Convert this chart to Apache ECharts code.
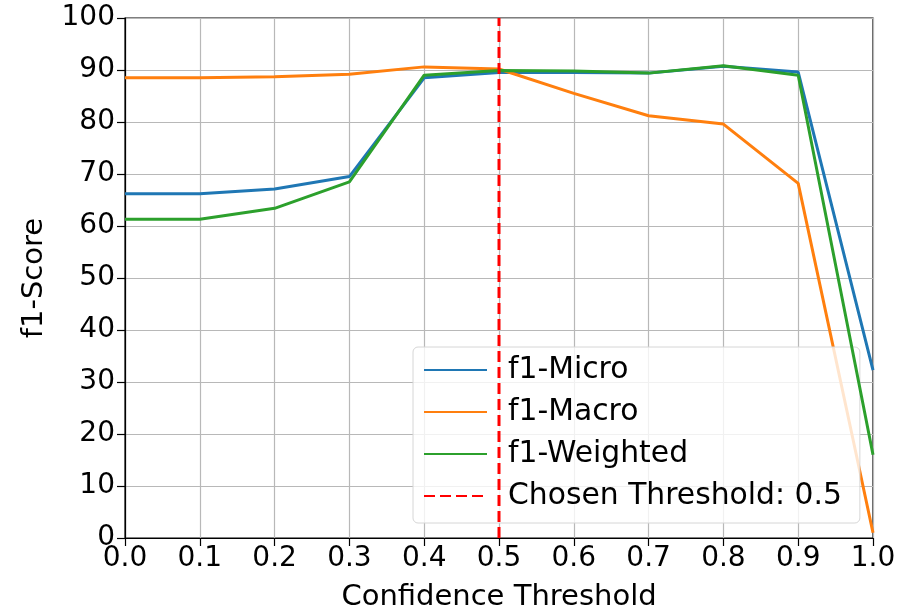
<!DOCTYPE html>
<html>
<head>
<meta charset="utf-8">
<script src="https://cdn.jsdelivr.net/npm/echarts@6/dist/echarts.min.js"></script>
<style>html,body{margin:0;padding:0;background:#fff;}#c{width:898px;height:610px;}</style>
</head>
<body>
<div id="c"></div>
<script>
const thresholds = [0.0, 0.1, 0.2, 0.3, 0.4, 0.5, 0.6, 0.7, 0.8, 0.9, 1.0];
const f1Micro = [66.2, 66.2, 67.1, 69.5, 88.5, 89.5, 89.5, 89.4, 90.7, 89.6, 32.3];
const f1Macro = [88.5, 88.5, 88.7, 89.2, 90.6, 90.2, 85.5, 81.2, 79.6, 68.2, 1.0];
const f1Weighted = [61.3, 61.3, 63.4, 68.5, 89.0, 89.9, 89.8, 89.4, 90.8, 89.0, 16.0];
const chosenThreshold = 0.5;
const seriesNames = ['f1-Micro', 'f1-Macro', 'f1-Weighted', 'Chosen Threshold: 0.5'];

const FONT = 'DejaVu Sans';
const pair = (xs, ys) => xs.map((x, i) => [x, ys[i]]);

const chart = echarts.init(document.getElementById('c'), null, {renderer: 'canvas'});
chart.setOption({
  animation: false,
  backgroundColor: '#fff',
  textStyle: {fontFamily: FONT, color: '#000'},
  grid: {left: 125, right: 25, top: 18, bottom: 72, outerBoundsMode: 'none', containLabel: false,
         show: true, borderColor: '#000', borderWidth: 1.2, backgroundColor: 'transparent'},
  xAxis: {
    type: 'value', min: 0, max: 1, interval: 0.1,
    name: 'Confidence Threshold', nameLocation: 'middle', nameGap: 45,
    nameTextStyle: {fontFamily: FONT, fontSize: 29, color: '#000'},
    axisLine: {show: true, lineStyle: {color: '#000', width: 1.2}},
    axisTick: {show: true, length: 8, lineStyle: {color: '#000', width: 1.2}},
    axisLabel: {fontFamily: FONT, fontSize: 28, color: '#000', margin: 7, formatter: v => v.toFixed(1)},
    splitLine: {show: true, lineStyle: {color: '#b8b8b8', width: 1.2}}
  },
  yAxis: {
    type: 'value', min: 0, max: 100, interval: 10,
    name: 'f1-Score', nameLocation: 'middle', nameGap: 76,
    nameTextStyle: {fontFamily: FONT, fontSize: 29, color: '#000'},
    axisLine: {show: true, lineStyle: {color: '#000', width: 1.2}},
    axisTick: {show: true, length: 8, lineStyle: {color: '#000', width: 1.2}},
    axisLabel: {fontFamily: FONT, fontSize: 28, color: '#000', margin: 10},
    splitLine: {show: true, lineStyle: {color: '#b8b8b8', width: 1.2}}
  },
  legend: {
    orient: 'vertical', left: 413, top: 347,
    data: seriesNames,
    itemWidth: 63, itemHeight: 14, itemGap: 6,
    padding: [5, 18, 9, 10],
    backgroundColor: 'rgba(255,255,255,0.8)',
    borderColor: '#d6d6d6', borderWidth: 1, borderRadius: 5,
    itemStyle: {opacity: 0},
    textStyle: {fontFamily: FONT, fontSize: 29.8, color: '#000', lineHeight: 36, padding: [0, 0, 0, 16]}
  },
  series: [
    {name: seriesNames[0], type: 'line', data: pair(thresholds, f1Micro), symbol: 'none', color: '#1f77b4', lineStyle: {width: 3, color: '#1f77b4'}, z: 2},
    {name: seriesNames[1], type: 'line', data: pair(thresholds, f1Macro), symbol: 'none', color: '#ff7f0e', lineStyle: {width: 3, color: '#ff7f0e'}, z: 3},
    {name: seriesNames[2], type: 'line', data: pair(thresholds, f1Weighted), symbol: 'none', color: '#2ca02c', lineStyle: {width: 3, color: '#2ca02c'}, z: 4},
    {name: seriesNames[3], type: 'line', data: [[chosenThreshold, 0], [chosenThreshold, 100]], symbol: 'none', color: '#ff0000', lineStyle: {width: 3, color: '#ff0000', type: [11, 5]}, z: 5}
  ]
});
</script>
</body>
</html>
